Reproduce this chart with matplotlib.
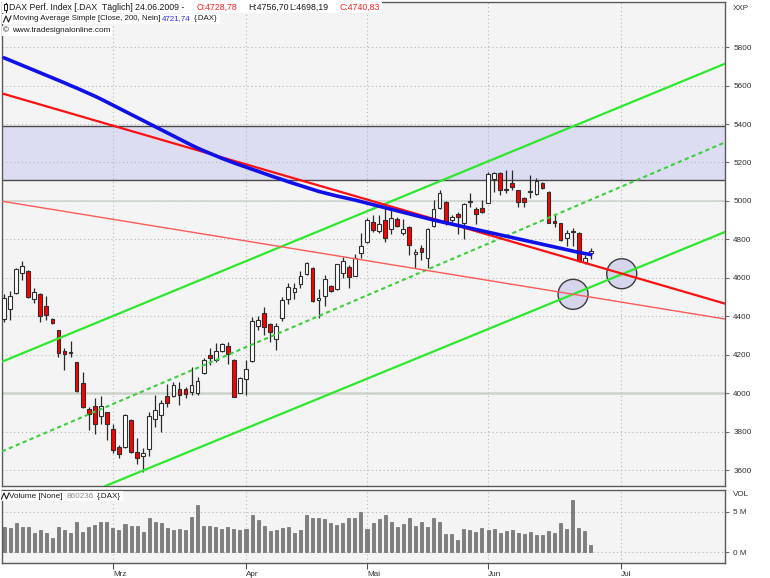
import matplotlib
matplotlib.use("Agg")
import matplotlib.pyplot as plt
import numpy as np
import pandas as pd
from matplotlib.patches import Ellipse, Rectangle
from matplotlib.lines import Line2D
from matplotlib.transforms import Bbox

plt.rcParams['font.family'] = ['Liberation Sans', 'DejaVu Sans']

# Xetra trading calendar, Feb-Jul 2009
holidays = pd.to_datetime(['2009-04-10', '2009-04-13', '2009-05-01'])
calendar = pd.bdate_range('2009-02-04', '2009-07-31')
calendar = calendar[~calendar.isin(holidays)]

open_ = [4385, 4439, 4520, 4624, 4636, 4491, 4515, 4455, 4385, 4328,
         4222, 4213, 4162, 4053, 3919, 3935, 3883, 3902, 3816, 3720,
         3720, 3862, 3698, 3675, 3712, 3866, 3888, 3987, 3987, 4022,
         4022, 4009, 4001, 4108, 4200, 4174, 4221, 4248, 4174, 4004,
         4074, 4169, 4351, 4420, 4359, 4283, 4394, 4489, 4529, 4567,
         4619, 4654, 4486, 4508, 4560, 4541, 4624, 4659, 4612, 4728,
         4785, 4892, 4846, 4901, 4853, 4905, 4835, 4863, 4725, 4754,
         4702, 4870, 4962, 4996, 4901, 4932, 4887, 4995, 4957, 4962,
         4991, 5114, 5147, 5062, 5092, 5057, 5014, 5047, 5036, 5095,
         5048, 4898, 4884, 4806, 4843, 4835, 4685, 4728.78]
high = [4515, 4532, 4654, 4688, 4641, 4546, 4520, 4508, 4394, 4331,
        4235, 4273, 4165, 4113, 3931, 3975, 3987, 3905, 3842, 3732,
        3891, 3866, 3767, 3715, 3906, 3992, 3966, 4049, 4061, 4061,
        4035, 4139, 4087, 4186, 4235, 4261, 4264, 4269, 4177, 4087,
        4174, 4399, 4403, 4451, 4366, 4366, 4503, 4576, 4572, 4636,
        4681, 4659, 4541, 4616, 4565, 4674, 4711, 4668, 4725, 4835,
        4910, 4927, 4927, 4970, 4965, 4919, 4905, 4870, 4749, 4771,
        4858, 5005, 5057, 5000, 4927, 4944, 4991, 5040, 4970, 5005,
        5152, 5152, 5152, 5161, 5161, 5059, 5019, 5135, 5118, 5099,
        5052, 4932, 4887, 4849, 4858, 4839, 4719, 4756.70]
low = [4373, 4382, 4515, 4590, 4498, 4468, 4370, 4382, 4359, 4191,
       4122, 4191, 4009, 3923, 3810, 3788, 3842, 3758, 3689, 3663,
       3714, 3692, 3634, 3594, 3675, 3824, 3802, 3932, 3983, 3940,
       3975, 3992, 3992, 4100, 4148, 4165, 4214, 4152, 3980, 4001,
       3992, 4165, 4330, 4304, 4269, 4226, 4377, 4463, 4489, 4546,
       4616, 4474, 4391, 4456, 4525, 4536, 4602, 4550, 4608, 4705,
       4781, 4841, 4832, 4789, 4827, 4867, 4823, 4719, 4650, 4694,
       4650, 4867, 4957, 4875, 4875, 4829, 4801, 4970, 4881, 4936,
       4987, 5048, 5031, 5040, 5057, 4970, 4970, 5014, 5032, 5061,
       4884, 4867, 4792, 4766, 4766, 4685, 4671, 4698.19]
close = [4494, 4506, 4647, 4662, 4503, 4526, 4404, 4408, 4365, 4212,
         4203, 4211, 4013, 3931, 3892, 3840, 3935, 3842, 3706, 3686,
         3888, 3694, 3663, 3689, 3885, 3914, 3952, 3952, 4044, 3992,
         3996, 4044, 4065, 4174, 4186, 4221, 4257, 4203, 3984, 4082,
         4127, 4377, 4380, 4347, 4318, 4352, 4486, 4551, 4546, 4612,
         4676, 4482, 4498, 4593, 4532, 4671, 4690, 4604, 4702, 4768,
         4901, 4849, 4879, 4806, 4910, 4870, 4853, 4771, 4737, 4733,
         4853, 4957, 5040, 4892, 4915, 4915, 4984, 4999, 4931, 4941,
         5140, 5144, 5057, 5059, 5074, 4996, 4996, 5050, 5106, 5066,
         4887, 4887, 4797, 4835, 4839, 4690, 4706, 4740.83]
volume_m = [3.16, 2.95, 3.65, 3.07, 3.16, 2.34, 2.75, 2.34, 1.72, 3.16,
            2.75, 2.34, 3.77, 2.54, 3.16, 3.36, 3.77, 3.77, 2.95, 2.75,
            3.48, 3.24, 3.24, 2.54, 4.26, 3.69, 3.57, 3.03, 2.75, 2.83,
            2.75, 4.39, 5.82, 3.24, 3.24, 3.16, 2.87, 3.07, 2.87, 2.75,
            2.83, 4.63, 3.98, 3.24, 2.66, 2.75, 3.03, 3.16, 2.34, 2.75,
            4.55, 4.18, 4.26, 4.06, 3.57, 3.36, 3.57, 4.18, 4.18, 4.96,
            2.87, 3.57, 4.06, 4.55, 3.77, 3.07, 3.44, 4.26, 3.28, 3.77,
            3.16, 4.18, 3.77, 2.21, 2.21, 1.52, 2.87, 2.75, 2.54, 3.03,
            2.75, 2.83, 2.42, 2.62, 2.75, 2.34, 2.25, 2.54, 2.13, 2.13,
            2.66, 2.34, 3.57, 2.87, 6.43, 2.95, 2.62, 0.86]
ma200 = [5744, 5731, 5718, 5705, 5692, 5679, 5666, 5653, 5640, 5627,
         5614, 5600, 5587, 5573, 5559, 5545, 5530, 5514, 5498, 5482,
         5466, 5450, 5434, 5418, 5402, 5386, 5370, 5354, 5338, 5322,
         5306, 5290, 5275, 5261, 5248, 5235, 5222, 5210, 5198, 5187,
         5176, 5165, 5154, 5143, 5132, 5121, 5111, 5100, 5090, 5080,
         5070, 5060, 5050, 5042, 5034, 5026, 5019, 5012, 5005, 4997,
         4989, 4981, 4973, 4965, 4957, 4949, 4941, 4933, 4925, 4917,
         4909, 4901, 4894, 4887, 4880, 4873, 4866, 4859, 4852, 4845,
         4838, 4831, 4824, 4817, 4810, 4803, 4796, 4789, 4782, 4775,
         4768, 4761, 4754, 4747, 4740, 4733, 4727, 4721.74]

# trend lines: two anchor points each (bar index, price)
red_main = [(0, 5556), (100, 4642)]
red_thin = [(0, 4997), (100, 4485)]
green_upper = [(0, 4169), (100, 5465)]
green_mid = [(0, 3703), (100, 5047)]
green_lower = [(0, 3303), (100, 4592)]
zone = (5110, 5390)
marked_points = [(94.06, 4515), (102.1, 4622)]

month_labels = ['Mrz', 'Apr', 'Mai', 'Jun', 'Jul']
price_ticks = list(range(3600, 5801, 200))

n = len(close)
x = np.arange(n)
o, h, l, c = map(np.asarray, (open_, high, low, close))

# first trading day of each month -> bar position
month_pos = [int(np.argmax(calendar.month == m)) for m in [3, 4, 5, 6, 7]]

W, H = 770, 578
fig = plt.figure(figsize=(W / 100, H / 100), dpi=100)
fig.patch.set_facecolor('white')


def box(left, top, right, bottom):
    return [left / W, 1 - bottom / H, (right - left) / W, (bottom - top) / H]


ax = fig.add_axes(box(2, 2, 725, 486))
axv = fig.add_axes(box(2, 490, 725, 563), sharex=ax)

panel_bg = '#f4f4f4'
frame = '#5a5a5a'
for a in (ax, axv):
    a.set_facecolor(panel_bg)
    for s in a.spines.values():
        s.set_color(frame)
        s.set_linewidth(1.0)
    a.set_axisbelow(True)

ax.set_xlim(-0.33, 119.17)
ax.set_ylim(3519, 6034)

# grid
dot = (0, (1, 2.5))
ax.set_yticks(price_ticks)
ax.set_yticklabels([str(v) for v in price_ticks])
ax.set_xticks(month_pos)
ax.grid(True, axis='both', color='#b8b8b8', linestyle=dot, linewidth=0.8)
ax.yaxis.tick_right()
ax.tick_params(axis='y', direction='out', length=3, width=0.8, color='#707070',
               pad=3, labelsize=5.9, labelcolor='#303030')
ax.tick_params(axis='x', length=0, labelbottom=False)

# resistance zone and horizontal lines
ax.axhspan(zone[0], zone[1], facecolor='#dcdcf3', edgecolor='none', zorder=0.5)
for yv in zone:
    ax.axhline(yv, color='#4a4a4a', lw=1.0, zorder=1)
ax.axhline(4000, color='#cbd3cb', lw=1.8, zorder=1)
ax.axhline(5000, color='#cbd3cb', lw=1.1, zorder=1)

# marked intersections
for cx, cy in marked_points:
    ax.add_patch(Ellipse((cx, cy), width=30 / 6.05, height=30 / 0.1925,
                         facecolor='#d5d5ec', edgecolor='#3c3c3c', lw=1.0, zorder=2))

# candles
up = c >= o
body_bottom = np.minimum(o, c)
body_h = np.abs(c - o)
colors = np.where(up, '#ffffff', '#ff0000')
ax.vlines(x, l, h, color='#2a2a2a', lw=0.9, zorder=3)
ax.bar(x, body_h, bottom=body_bottom, width=0.62, color=colors,
       edgecolor='#2f2f2f', linewidth=0.8, zorder=4)

# channel and trend lines
g = '#2ee82e'
ax.axline(*green_upper, color=g, lw=1.6, zorder=5)
ax.axline(*green_lower, color=g, lw=1.6, zorder=5)
ax.axline(*green_mid, color='#3cd03c', lw=1.5, linestyle=(0, (2.0, 1.6)), zorder=5)
ax.axline(*red_thin, color='#ff5a5a', lw=1.0, zorder=5)
ax.axline(*red_main, color='#ff1010', lw=1.6, zorder=5)

# 200-day simple moving average
ax.plot(x, ma200, color='#1010e8', lw=2.6, zorder=6, solid_capstyle='round')

# volume panel
axv.bar(x, volume_m, width=0.5, color='#7e7e7e', edgecolor='#6c6c6c', linewidth=0.5)
axv.set_ylim(-1.32, 7.66)
axv.set_yticks([0, 5])
axv.set_yticklabels(['0 M', '5 M'])
axv.yaxis.tick_right()
axv.grid(True, axis='both', color='#b8b8b8', linestyle=dot, linewidth=0.8)
axv.tick_params(axis='y', direction='out', length=3, width=0.8, color='#707070',
                pad=3, labelsize=5.9, labelcolor='#303030')
axv.set_xticks(month_pos)
axv.set_xticklabels(month_labels)
axv.tick_params(axis='x', direction='out', length=4, width=0.8, color='#505050',
                pad=1.5, labelsize=5.9, labelcolor='#303030')
for lab in axv.get_xticklabels():
    lab.set_horizontalalignment('left')

fig.text(733 / W, 1 - 8 / H, 'XXP', fontsize=5.9, color='#303030', va='center', ha='left')
fig.text(733 / W, 1 - 495 / H, 'VOL', fontsize=5.9, color='#303030', va='center', ha='left')

legend_rows = []


def legend_row(y_px, pieces, size=5.9, left=2, right_pad=2):
    arts = [fig.text(xp / W, 1 - y_px / H, s, fontsize=size, color=col,
                     va='center', ha='left', zorder=21)
            for xp, s, col in pieces]
    legend_rows.append((arts, left, y_px, right_pad))


black = '#1a1a1a'
legend_row(7, [(9, 'DAX Perf. Index [.DAX  Täglich] 24.06.2009 -', black),
               (197, 'O:4728,78', '#ff2020'),
               (248, 'H:4756,70', black),
               (289, 'L:4698,19', black),
               (340, 'C:4740,83', '#ff2020')], size=6.3)
legend_row(19, [(13, 'Moving Average Simple [Close, 200, Nein]', black),
                (162, '4721,74', '#2a2aff'),
                (194, '{.DAX}', black)], size=5.7)
legend_row(31, [(3, '©', black), (12, 'www.tradesignalonline.com', black)])
legend_row(496, [(9, 'Volume [None]', black), (67, '860236', '#8a8a8a'),
                 (97, '{.DAX}', black)])

# white backing behind each legend row
renderer = fig.canvas.get_renderer()
for arts, left, y_px, rp in legend_rows:
    bb = Bbox.union([a.get_window_extent(renderer) for a in arts])
    x0 = left
    x1 = bb.x1 + rp
    y0 = H - bb.y1 - 1.5
    y1 = H - bb.y0 + 1.5
    fig.add_artist(Rectangle((x0 / W, 1 - y1 / H), (x1 - x0) / W, (y1 - y0) / H,
                             transform=fig.transFigure, facecolor='white',
                             edgecolor='none', zorder=20))


def zigzag(x0, yc):
    xs = np.array([x0, x0 + 2.5, x0 + 5, x0 + 7.5])
    ys = np.array([yc + 3, yc - 3, yc + 3, yc - 3])
    fig.add_artist(Line2D(xs / W, 1 - ys / H, color='#202020', lw=0.8,
                          transform=fig.transFigure, zorder=22))


# small legend icons
fig.add_artist(Line2D([5.5 / W, 5.5 / W], [1 - 2.5 / H, 1 - 11.5 / H], color=black, lw=0.8,
                      transform=fig.transFigure, zorder=22))
fig.add_artist(Rectangle((3.8 / W, 1 - 9.5 / H), 3.4 / W, 5 / H, transform=fig.transFigure,
                         facecolor='white', edgecolor=black, lw=0.7, zorder=23))
zigzag(3.5, 19)
zigzag(1.5, 496)

fig.savefig('out.png', dpi=100, facecolor='white')
